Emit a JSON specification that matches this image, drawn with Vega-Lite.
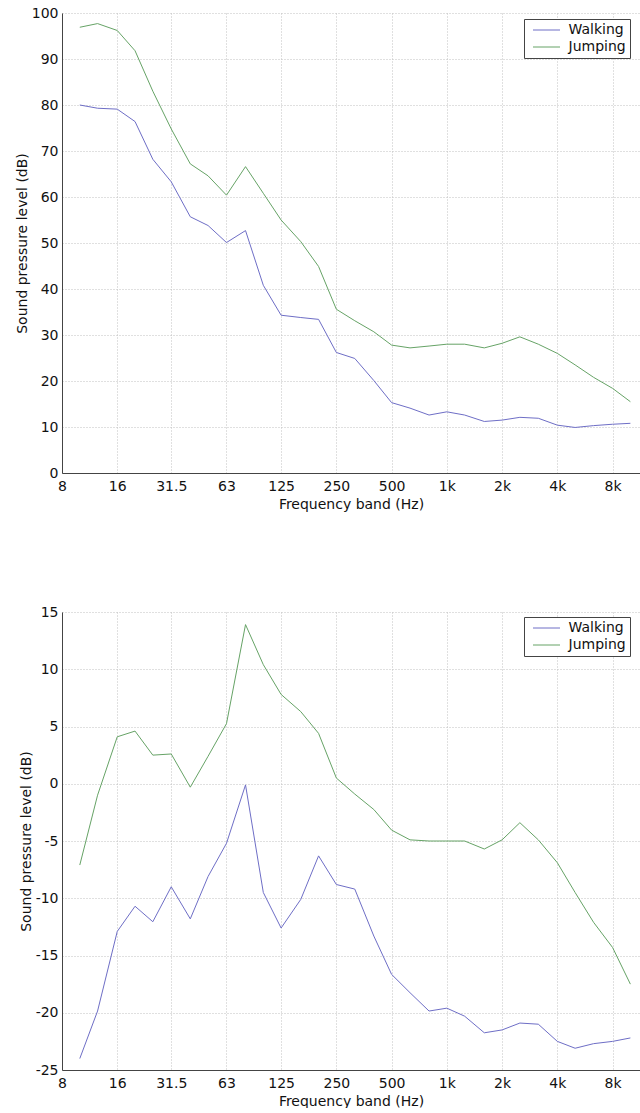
{
  "$schema": "https://vega.github.io/schema/vega-lite/v6.json",
  "background": "white",
  "padding": {"left": 15, "top": 6, "right": 0, "bottom": 0},
  "bounds": "flush",
  "spacing": 139,
  "config": {
    "font": "DejaVu Sans",
    "view": {"stroke": null},
    "axis": {
      "labelFont": "DejaVu Sans",
      "labelFontSize": 14,
      "labelColor": "#111111",
      "titleFont": "DejaVu Sans",
      "titleFontSize": 14,
      "titleFontWeight": "normal",
      "titleColor": "#111111",
      "domainColor": "#444444",
      "domainWidth": 1,
      "ticks": false,
      "gridColor": "#c0c0c0",
      "gridDash": [1, 2],
      "gridOpacity": 1,
      "gridWidth": 1
    },
    "legend": {
      "orient": "none",
      "padding": 4,
      "symbolOffset": 11.5,
      "symbolType": "M-3,0H3",
      "symbolSize": 81,
      "symbolStrokeWidth": 1,
      "labelOffset": 15,
      "rowPadding": 3,
      "fillColor": "white",
      "strokeColor": "#444444",
      "labelFont": "DejaVu Sans",
      "labelFontSize": 14,
      "labelColor": "#111111"
    }
  },
  "datasets": {
    "top": [
      {"series": "Walking", "freq": 10, "level": 80.0},
      {"series": "Walking", "freq": 12.5, "level": 79.3},
      {"series": "Walking", "freq": 16, "level": 79.1},
      {"series": "Walking", "freq": 20, "level": 76.4},
      {"series": "Walking", "freq": 25, "level": 68.2},
      {"series": "Walking", "freq": 31.5, "level": 63.3},
      {"series": "Walking", "freq": 40, "level": 55.7},
      {"series": "Walking", "freq": 50, "level": 53.8},
      {"series": "Walking", "freq": 63, "level": 50.1},
      {"series": "Walking", "freq": 80, "level": 52.7},
      {"series": "Walking", "freq": 100, "level": 40.8},
      {"series": "Walking", "freq": 125, "level": 34.3},
      {"series": "Walking", "freq": 160, "level": 33.8},
      {"series": "Walking", "freq": 200, "level": 33.4},
      {"series": "Walking", "freq": 250, "level": 26.2},
      {"series": "Walking", "freq": 315, "level": 24.9},
      {"series": "Walking", "freq": 400, "level": 20.1},
      {"series": "Walking", "freq": 500, "level": 15.3},
      {"series": "Walking", "freq": 630, "level": 14.1},
      {"series": "Walking", "freq": 800, "level": 12.6},
      {"series": "Walking", "freq": 1000, "level": 13.3},
      {"series": "Walking", "freq": 1250, "level": 12.6},
      {"series": "Walking", "freq": 1600, "level": 11.2},
      {"series": "Walking", "freq": 2000, "level": 11.5},
      {"series": "Walking", "freq": 2500, "level": 12.1},
      {"series": "Walking", "freq": 3150, "level": 11.9},
      {"series": "Walking", "freq": 4000, "level": 10.4},
      {"series": "Walking", "freq": 5000, "level": 9.9},
      {"series": "Walking", "freq": 6300, "level": 10.3},
      {"series": "Walking", "freq": 8000, "level": 10.6},
      {"series": "Walking", "freq": 10000, "level": 10.8},
      {"series": "Jumping", "freq": 10, "level": 96.9},
      {"series": "Jumping", "freq": 12.5, "level": 97.7},
      {"series": "Jumping", "freq": 16, "level": 96.2},
      {"series": "Jumping", "freq": 20, "level": 91.8},
      {"series": "Jumping", "freq": 25, "level": 83.0},
      {"series": "Jumping", "freq": 31.5, "level": 74.8},
      {"series": "Jumping", "freq": 40, "level": 67.2},
      {"series": "Jumping", "freq": 50, "level": 64.6},
      {"series": "Jumping", "freq": 63, "level": 60.4},
      {"series": "Jumping", "freq": 80, "level": 66.6},
      {"series": "Jumping", "freq": 100, "level": 60.8},
      {"series": "Jumping", "freq": 125, "level": 55.0},
      {"series": "Jumping", "freq": 160, "level": 50.3},
      {"series": "Jumping", "freq": 200, "level": 44.9},
      {"series": "Jumping", "freq": 250, "level": 35.6},
      {"series": "Jumping", "freq": 315, "level": 33.1},
      {"series": "Jumping", "freq": 400, "level": 30.7},
      {"series": "Jumping", "freq": 500, "level": 27.8},
      {"series": "Jumping", "freq": 630, "level": 27.2},
      {"series": "Jumping", "freq": 800, "level": 27.6},
      {"series": "Jumping", "freq": 1000, "level": 28.0},
      {"series": "Jumping", "freq": 1250, "level": 28.0},
      {"series": "Jumping", "freq": 1600, "level": 27.2},
      {"series": "Jumping", "freq": 2000, "level": 28.2},
      {"series": "Jumping", "freq": 2500, "level": 29.6},
      {"series": "Jumping", "freq": 3150, "level": 28.0},
      {"series": "Jumping", "freq": 4000, "level": 26.0},
      {"series": "Jumping", "freq": 5000, "level": 23.5},
      {"series": "Jumping", "freq": 6300, "level": 20.8},
      {"series": "Jumping", "freq": 8000, "level": 18.4},
      {"series": "Jumping", "freq": 10000, "level": 15.5}
    ],
    "bottom": [
      {"series": "Walking", "freq": 10, "level": -24.0},
      {"series": "Walking", "freq": 12.5, "level": -19.85},
      {"series": "Walking", "freq": 16, "level": -12.9},
      {"series": "Walking", "freq": 20, "level": -10.7},
      {"series": "Walking", "freq": 25, "level": -12.05},
      {"series": "Walking", "freq": 31.5, "level": -9.0},
      {"series": "Walking", "freq": 40, "level": -11.8},
      {"series": "Walking", "freq": 50, "level": -8.1},
      {"series": "Walking", "freq": 63, "level": -5.2},
      {"series": "Walking", "freq": 80, "level": -0.1},
      {"series": "Walking", "freq": 100, "level": -9.5},
      {"series": "Walking", "freq": 125, "level": -12.6},
      {"series": "Walking", "freq": 160, "level": -10.1},
      {"series": "Walking", "freq": 200, "level": -6.3},
      {"series": "Walking", "freq": 250, "level": -8.8},
      {"series": "Walking", "freq": 315, "level": -9.2},
      {"series": "Walking", "freq": 400, "level": -13.3},
      {"series": "Walking", "freq": 500, "level": -16.65},
      {"series": "Walking", "freq": 630, "level": -18.25},
      {"series": "Walking", "freq": 800, "level": -19.85},
      {"series": "Walking", "freq": 1000, "level": -19.6},
      {"series": "Walking", "freq": 1250, "level": -20.3},
      {"series": "Walking", "freq": 1600, "level": -21.75},
      {"series": "Walking", "freq": 2000, "level": -21.5},
      {"series": "Walking", "freq": 2500, "level": -20.9},
      {"series": "Walking", "freq": 3150, "level": -21.0},
      {"series": "Walking", "freq": 4000, "level": -22.5},
      {"series": "Walking", "freq": 5000, "level": -23.1},
      {"series": "Walking", "freq": 6300, "level": -22.7},
      {"series": "Walking", "freq": 8000, "level": -22.5},
      {"series": "Walking", "freq": 10000, "level": -22.2},
      {"series": "Jumping", "freq": 10, "level": -7.1},
      {"series": "Jumping", "freq": 12.5, "level": -1.0},
      {"series": "Jumping", "freq": 16, "level": 4.1},
      {"series": "Jumping", "freq": 20, "level": 4.6},
      {"series": "Jumping", "freq": 25, "level": 2.5},
      {"series": "Jumping", "freq": 31.5, "level": 2.6},
      {"series": "Jumping", "freq": 40, "level": -0.3},
      {"series": "Jumping", "freq": 50, "level": 2.4},
      {"series": "Jumping", "freq": 63, "level": 5.25},
      {"series": "Jumping", "freq": 80, "level": 13.9},
      {"series": "Jumping", "freq": 100, "level": 10.4},
      {"series": "Jumping", "freq": 125, "level": 7.8},
      {"series": "Jumping", "freq": 160, "level": 6.3},
      {"series": "Jumping", "freq": 200, "level": 4.4},
      {"series": "Jumping", "freq": 250, "level": 0.5},
      {"series": "Jumping", "freq": 315, "level": -0.9},
      {"series": "Jumping", "freq": 400, "level": -2.25},
      {"series": "Jumping", "freq": 500, "level": -4.05},
      {"series": "Jumping", "freq": 630, "level": -4.9},
      {"series": "Jumping", "freq": 800, "level": -5.0},
      {"series": "Jumping", "freq": 1000, "level": -5.0},
      {"series": "Jumping", "freq": 1250, "level": -5.0},
      {"series": "Jumping", "freq": 1600, "level": -5.7},
      {"series": "Jumping", "freq": 2000, "level": -4.9},
      {"series": "Jumping", "freq": 2500, "level": -3.4},
      {"series": "Jumping", "freq": 3150, "level": -4.9},
      {"series": "Jumping", "freq": 4000, "level": -6.9},
      {"series": "Jumping", "freq": 5000, "level": -9.5},
      {"series": "Jumping", "freq": 6300, "level": -12.1},
      {"series": "Jumping", "freq": 8000, "level": -14.3},
      {"series": "Jumping", "freq": 10000, "level": -17.5}
    ]
  },
  "vconcat": [
    {
      "width": 578,
      "height": 460,
      "data": {"name": "top"},
      "mark": {"type": "line", "strokeWidth": 1, "clip": true},
      "encoding": {
        "x": {
          "field": "freq",
          "type": "quantitative",
          "scale": {"type": "log", "domain": [8, 11283], "nice": false},
          "axis": {
            "title": "Frequency band (Hz)",
            "values": [8, 16, 31.5, 63, 125, 250, 500, 1000, 2000, 4000, 8000],
            "labelExpr": "datum.value >= 1000 ? (datum.value / 1000) + 'k' : '' + datum.value",
            "labelPadding": 6,
            "titlePadding": 4,
            "labelFlush": false,
            "labelOverlap": false
          }
        },
        "y": {
          "field": "level",
          "type": "quantitative",
          "scale": {"domain": [0, 100], "nice": false, "zero": false},
          "axis": {
            "title": "Sound pressure level (dB)",
            "values": [0, 10, 20, 30, 40, 50, 60, 70, 80, 90, 100],
            "labelExpr": "'' + datum.value",
            "labelPadding": 4,
            "titlePadding": 2
          }
        },
        "color": {
          "field": "series",
          "type": "nominal",
          "sort": ["Walking", "Jumping"],
          "scale": {"domain": ["Walking", "Jumping"], "range": ["#6e6ec6", "#66a366"]},
          "legend": {"title": null, "orient": "none", "legendX": 462, "legendY": 6}
        }
      }
    },
    {
      "width": 578,
      "height": 458,
      "data": {"name": "bottom"},
      "mark": {"type": "line", "strokeWidth": 1, "clip": true},
      "encoding": {
        "x": {
          "field": "freq",
          "type": "quantitative",
          "scale": {"type": "log", "domain": [8, 11283], "nice": false},
          "axis": {
            "title": "Frequency band (Hz)",
            "values": [8, 16, 31.5, 63, 125, 250, 500, 1000, 2000, 4000, 8000],
            "labelExpr": "datum.value >= 1000 ? (datum.value / 1000) + 'k' : '' + datum.value",
            "labelPadding": 6,
            "titlePadding": 4,
            "labelFlush": false,
            "labelOverlap": false
          }
        },
        "y": {
          "field": "level",
          "type": "quantitative",
          "scale": {"domain": [-25, 15], "nice": false, "zero": false},
          "axis": {
            "title": "Sound pressure level (dB)",
            "values": [-25, -20, -15, -10, -5, 0, 5, 10, 15],
            "labelExpr": "'' + datum.value",
            "labelPadding": 4,
            "titlePadding": 2
          }
        },
        "color": {
          "field": "series",
          "type": "nominal",
          "sort": ["Walking", "Jumping"],
          "scale": {"domain": ["Walking", "Jumping"], "range": ["#6e6ec6", "#66a366"]},
          "legend": {"title": null, "orient": "none", "legendX": 462, "legendY": 5}
        }
      }
    }
  ],
  "resolve": {"scale": {"color": "independent"}, "legend": {"color": "independent"}}
}
